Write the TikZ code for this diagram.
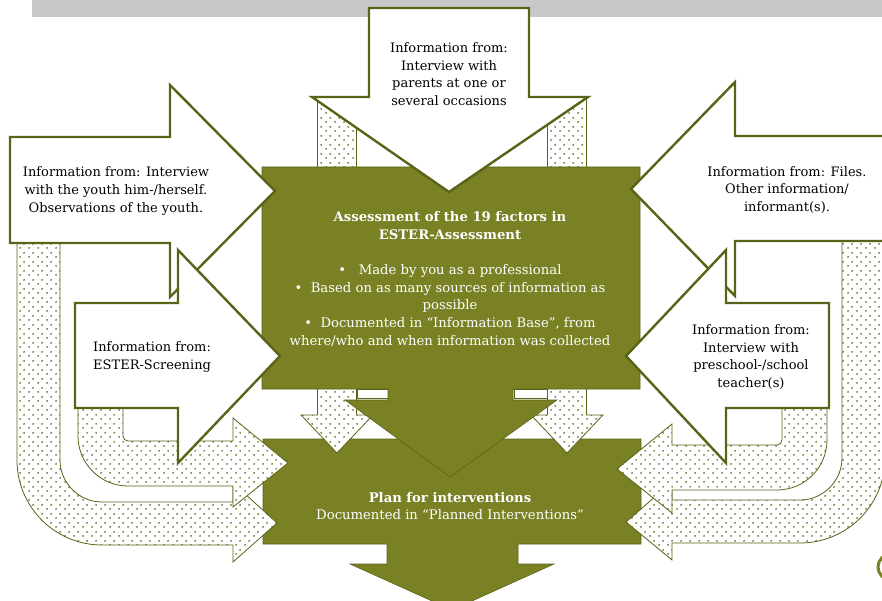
\documentclass[tikz,border=0pt]{standalone}
\usepackage{fontspec}
\setmainfont{DejaVu Serif}
\usetikzlibrary{patterns}

\definecolor{estergreen}{RGB}{121,129,36}
\definecolor{esterdark}{RGB}{90,99,24}
\definecolor{bandgray}{RGB}{200,200,200}

\pgfdeclarepatternformonly{esterdots}{\pgfpointorigin}{\pgfqpoint{9pt}{9pt}}{\pgfqpoint{9pt}{9pt}}{%
  \pgfpathcircle{\pgfqpoint{2.25pt}{2.25pt}}{1.05pt}%
  \pgfpathcircle{\pgfqpoint{6.75pt}{6.75pt}}{1.05pt}%
  \pgfusepath{fill}}

\tikzset{
  infoarrow/.style={fill=white, draw=esterdark, line width=2.4pt, line join=miter},
  dotarrow/.style={preaction={fill=white}, pattern=esterdots, pattern color=esterdark!90!estergreen,
    draw=esterdark, line width=0.8pt},
  greenblock/.style={fill=estergreen, draw=esterdark, line width=0.6pt},
  infotext/.style={font=\fontsize{13}{17.6}\selectfont, align=center, text=black, inner sep=0pt},
  greentext/.style={font=\fontsize{13.2}{17.6}\selectfont, align=center, text=white, inner sep=0pt}
}

\begin{document}
\begin{tikzpicture}[x=1pt,y=-1pt]
  \useasboundingbox (0,0) rectangle (882,601);
  \clip (0,0) rectangle (882,601);
  % band at the top
  \fill[bandgray] (32,0) rectangle (882,17);

  % lower block
  \draw[greenblock] (263,439) -- (641,439) -- (641,544) -- (518,544) -- (518,564) -- (554,564)
    -- (452,610) -- (350,564) -- (387,564) -- (387,544) -- (263,544) -- cycle;

  % dotted arrows between the blocks
  \foreach \cx in {337,567}
    \draw[dotarrow] ({\cx-19.5},97) -- ({\cx+19.5},97) -- ({\cx+19.5},415) -- ({\cx+36},415)
      -- (\cx,453) -- ({\cx-36},415) -- ({\cx-19.5},415) -- cycle;

  % dotted U arrows, outer ones
  \draw[dotarrow] (17,200) -- (17,460) .. controls (17,507) and (55,545) .. (102,545) -- (233,545)
    -- (233,562) -- (277,523) -- (233,483) -- (233,502) -- (102,502)
    .. controls (79,502) and (60,483) .. (60,460) -- (60,200) -- cycle;
  \draw[dotarrow] (885,200) -- (885,458) .. controls (885,505) and (847,543) .. (800,543) -- (672,543)
    -- (672,560) -- (626,522) -- (672,482) -- (672,500) -- (800,500)
    .. controls (823,500) and (842,481) .. (842,458) -- (842,200) -- cycle;
  % dotted U arrows, inner ones
  \draw[dotarrow] (78,380) -- (78,436) .. controls (78,463.6) and (100.4,486) .. (128,486) -- (233,486)
    -- (233,507) -- (288,463) -- (233,418) -- (233,441) -- (128,441)
    .. controls (125.2,441) and (123,438.8) .. (123,436) -- (123,380) -- cycle;
  \draw[dotarrow] (827,380) -- (827,440) .. controls (827,467.6) and (804.6,490) .. (777,490) -- (672,490)
    -- (672,513) -- (617,469) -- (672,424) -- (672,445) -- (777,445)
    .. controls (779.8,445) and (782,442.8) .. (782,440) -- (782,380) -- cycle;

  % upper block
  \draw[fill=white, draw=esterdark, line width=0.6pt] (357,389) rectangle (388,398);
  \draw[fill=white, draw=esterdark, line width=0.6pt] (514,389) rectangle (547,398);
  \draw[greenblock] (262,167) -- (640,167) -- (640,389) -- (513,389) -- (513,400) -- (557,400)
    -- (450,477) -- (345,400) -- (388,400) -- (388,389) -- (262,389) -- cycle;

  % white arrows
  \draw[infoarrow] (10,137) -- (170,137) -- (170,85) -- (275,191) -- (170,297) -- (170,243) -- (10,243) -- cycle;
  \draw[infoarrow] (890,136) -- (735,136) -- (735,82) -- (631,189) -- (735,296) -- (735,241) -- (890,241) -- cycle;
  \draw[infoarrow] (75,303) -- (178,303) -- (178,250) -- (280,356) -- (178,463) -- (178,408) -- (75,408) -- cycle;
  \draw[infoarrow] (829,303) -- (726,303) -- (726,250) -- (626,356) -- (726,463) -- (726,408) -- (829,408) -- cycle;
  \draw[infoarrow] (369,8) -- (529,8) -- (529,97) -- (588,97) -- (449,192) -- (312,97) -- (369,97) -- cycle;

  \draw[estergreen, line width=3pt] (891,567) circle (13);

  \node[infotext] (parents) at (449,74) {Information from:\\Interview with\\parents at one or\\several occasions};
  \node[infotext] (youth) at (116,191) {Information from: Interview\\with the youth him-/herself.\\Observations of the youth.};
  \node[infotext, align=left, anchor=west] (screening) at (93,357) {Information from:\\ESTER-Screening};
  \node[infotext] (files) at (787,190) {Information from: Files.\\Other information/\\informant(s).};
  \node[infotext] (teacher) at (751,357) {Information from:\\Interview with\\preschool-/school\\teacher(s)};
  \node[greentext] (assess) at (450,279) {\textbf{Assessment of the 19 factors in}\\\textbf{ESTER-Assessment}\\[17.6pt]
    •\ \ \ Made by you as a professional\\
    •\ \ Based on as many sources of information as\\
    possible\\
    •\ \ Documented in “Information Base”, from\\
    where/who and when information was collected};
  \node[greentext] (plan) at (450,506) {\textbf{Plan for interventions}\\Documented in “Planned Interventions”};
\end{tikzpicture}
\end{document}
